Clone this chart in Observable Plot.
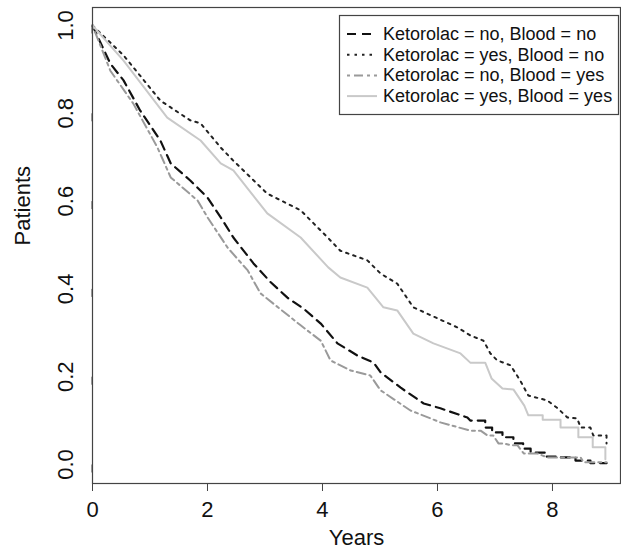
<!DOCTYPE html>
<html>
<head>
<meta charset="utf-8">
<script src="https://cdn.jsdelivr.net/npm/d3@7"></script>
<script src="https://cdn.jsdelivr.net/npm/@observablehq/plot@0.6"></script>
<style>
  html, body { margin: 0; padding: 0; background: #fff; }
  #chart svg { display: block; }
</style>
</head>
<body>
<div id="chart"></div>
<script>
// Series labels
const seriesNames = [
  "Ketorolac = no, Blood = no",
  "Ketorolac = yes, Blood = no",
  "Ketorolac = no, Blood = yes",
  "Ketorolac = yes, Blood = yes"
];

// Ketorolac = no, Blood = no (black dashed)
const tNoNo = [0, 0.31, 0.54, 0.83, 1.18, 1.36, 1.70, 2.00, 2.23, 2.45, 2.80, 3.10, 3.39, 3.67, 3.97, 4.26, 4.61, 4.89, 5.01, 5.36, 5.76, 6.05, 6.52, 6.57, 6.83, 6.83, 6.95, 6.95, 7.13, 7.13, 7.32, 7.32, 7.49, 7.49, 7.62, 7.62, 7.88, 7.88, 8.14, 8.14, 8.40, 8.40, 8.66, 8.66, 8.94];
const sNoNo = [1.0, 0.913, 0.875, 0.806, 0.738, 0.686, 0.647, 0.608, 0.563, 0.517, 0.458, 0.415, 0.380, 0.355, 0.321, 0.276, 0.248, 0.232, 0.210, 0.175, 0.139, 0.128, 0.107, 0.100, 0.100, 0.084, 0.084, 0.073, 0.073, 0.062, 0.062, 0.048, 0.048, 0.036, 0.036, 0.027, 0.027, 0.018, 0.018, 0.016, 0.016, 0.009, 0.009, 0.003, 0.003];

// Ketorolac = yes, Blood = no (black dotted)
const tYesNo = [0, 0.54, 1.18, 1.70, 1.88, 2.23, 2.45, 3.04, 3.62, 4.09, 4.31, 4.78, 5.01, 5.30, 5.58, 6.35, 6.57, 6.80, 6.92, 7.04, 7.27, 7.44, 7.58, 7.91, 8.09, 8.26, 8.43, 8.49, 8.66, 8.71, 8.94, 8.94];
const sYesNo = [1.0, 0.932, 0.829, 0.784, 0.777, 0.722, 0.692, 0.617, 0.579, 0.517, 0.487, 0.465, 0.435, 0.412, 0.358, 0.312, 0.294, 0.282, 0.253, 0.237, 0.226, 0.191, 0.157, 0.146, 0.128, 0.107, 0.105, 0.084, 0.084, 0.066, 0.066, 0.048];

// Ketorolac = no, Blood = yes (gray dot-dash)
const tNoYes = [0, 0.31, 0.71, 1.13, 1.36, 1.83, 2.00, 2.35, 2.70, 2.92, 3.62, 3.97, 4.14, 4.49, 4.83, 5.01, 5.53, 6.05, 6.57, 6.75, 6.87, 6.97, 7.06, 7.15, 7.27, 7.39, 7.50, 7.74, 7.91, 8.49, 8.54, 8.94];
const sNoYes = [1.0, 0.897, 0.822, 0.722, 0.654, 0.601, 0.563, 0.494, 0.442, 0.390, 0.317, 0.282, 0.237, 0.214, 0.203, 0.169, 0.123, 0.096, 0.077, 0.077, 0.066, 0.066, 0.048, 0.048, 0.044, 0.044, 0.025, 0.025, 0.016, 0.016, 0.005, 0.005];

// Ketorolac = yes, Blood = yes (light gray solid)
const tYesYes = [0, 0.54, 1.30, 1.88, 2.23, 2.45, 3.04, 3.62, 4.10, 4.31, 4.78, 5.06, 5.30, 5.58, 5.93, 6.40, 6.57, 6.83, 6.94, 7.13, 7.32, 7.51, 7.58, 7.83, 7.83, 8.14, 8.14, 8.45, 8.45, 8.70, 8.70, 8.92, 8.92];
const sYesYes = [1.0, 0.920, 0.790, 0.738, 0.686, 0.670, 0.572, 0.517, 0.449, 0.426, 0.403, 0.358, 0.351, 0.298, 0.276, 0.253, 0.232, 0.232, 0.196, 0.173, 0.171, 0.134, 0.112, 0.112, 0.102, 0.102, 0.084, 0.084, 0.062, 0.062, 0.039, 0.039, 0.012];

const xTicks = [0, 2, 4, 6, 8];
const yTicks = [0, 0.2, 0.4, 0.6, 0.8, 1.0];

const styles = [
  {stroke: "#111", strokeWidth: 2.2, dash: "9,6"},
  {stroke: "#222", strokeWidth: 2, dash: "2.5,5"},
  {stroke: "#9a9a9a", strokeWidth: 2, dash: "3,4,9,4"},
  {stroke: "#c9c9c9", strokeWidth: 2, dash: null}
];

const tArr = [tNoNo, tYesNo, tNoYes, tYesYes];
const sArr = [sNoNo, sYesNo, sNoYes, sYesYes];
const tables = tArr.map((ts, i) => ts.map((t, j) => ({t, s: sArr[i][j], series: seriesNames[i]})));

const fontFamily = "'Liberation Sans', Arial, Helvetica, sans-serif";

const lineMarks = tables.map((tb, i) => Plot.line(tb, {
  x: "t", y: "s", curve: "linear",
  stroke: styles[i].stroke, strokeWidth: styles[i].strokeWidth,
  strokeDasharray: styles[i].dash || undefined
}));

const chart = Plot.plot({
  width: 621,
  height: 554,
  marginLeft: 92,
  marginTop: 7,
  marginBottom: 71,
  marginRight: 1,
  style: {fontFamily, fontSize: "22px", color: "#111", background: "#fff"},
  x: {domain: [0, 9.183]},
  y: {domain: [-0.0433, 1.041]},
  marks: [
    ...lineMarks,
    Plot.axisX({ticks: xTicks, tickSize: 8, tickPadding: 10, fontSize: 22, label: null, stroke: "#444"}),
    Plot.axisY({ticks: yTicks, tickSize: 8, tickPadding: 19, rotate: -90, textAnchor: "middle", fontSize: 22, label: null, tickFormat: d3.format(".1f"), stroke: "#444"}),
    Plot.frame({stroke: "#444", strokeWidth: 1.2}),
    Plot.text(["Years"], {frameAnchor: "bottom", dy: 61, fontSize: 22, fill: "#111"}),
    Plot.text(["Patients"], {frameAnchor: "left", dx: -70, rotate: -90, fontSize: 22, fill: "#111"})
  ]
});

// Legend (R-style box, top right)
const svg = d3.select(chart);
const lg = svg.append("g").attr("font-family", fontFamily).attr("font-size", 18).attr("text-anchor", "start");
lg.append("rect").attr("x", 339.5).attr("y", 15.5).attr("width", 279).attr("height", 99)
  .attr("fill", "#fff").attr("stroke", "#444").attr("stroke-width", 1.2);
seriesNames.forEach((name, i) => {
  const cy = 34 + i * 20.7;
  const st = styles[i];
  const ln = lg.append("line").attr("x1", 347).attr("x2", 377).attr("y1", cy).attr("y2", cy)
    .attr("stroke", st.stroke).attr("stroke-width", st.strokeWidth);
  if (st.dash) ln.attr("stroke-dasharray", st.dash);
  lg.append("text").attr("x", 383).attr("y", cy + 6).attr("fill", "#111")
    .style("text-anchor", "start").text(name);
});

document.getElementById("chart").appendChild(chart);
</script>
</body>
</html>
